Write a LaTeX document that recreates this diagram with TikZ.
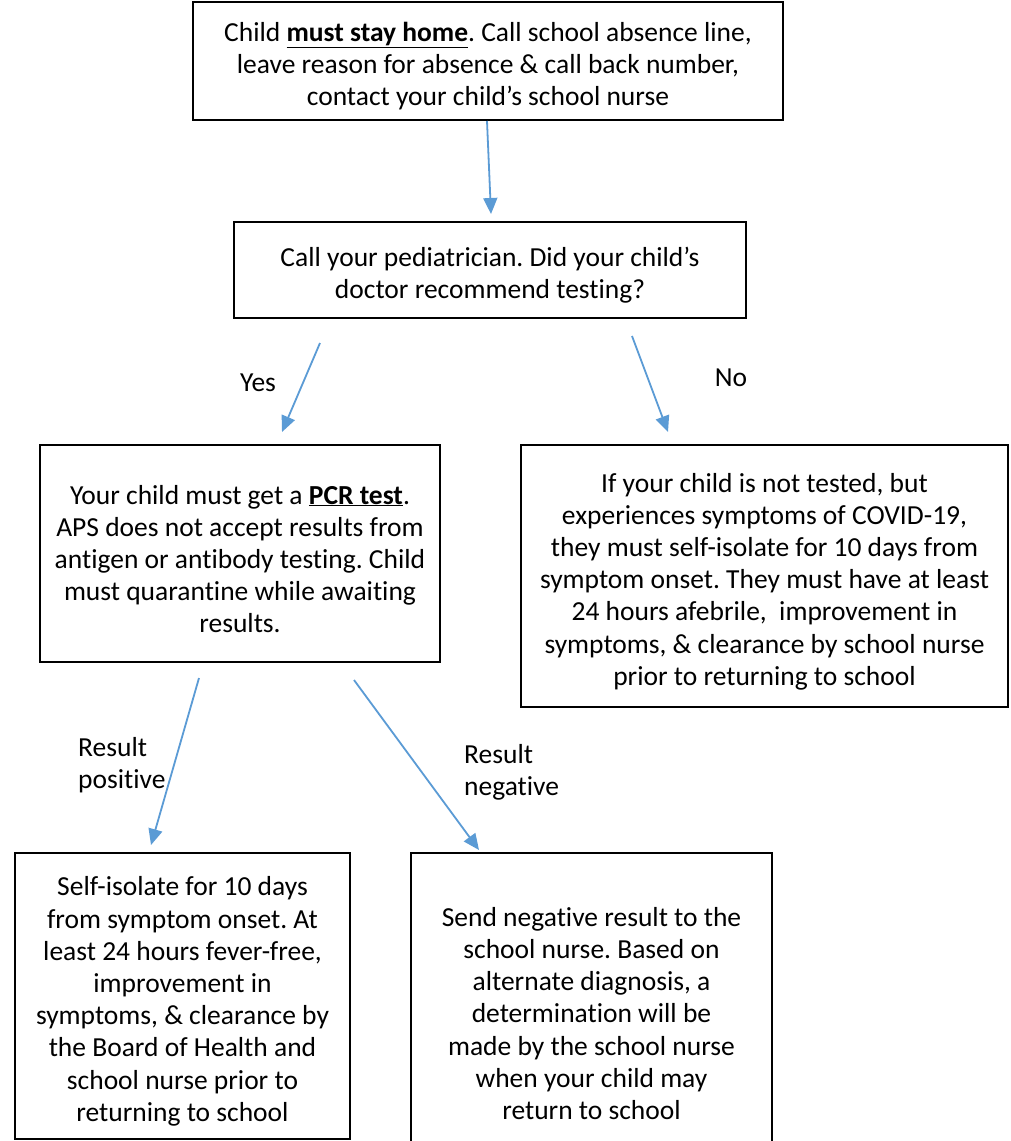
\documentclass[tikz,border=0pt]{standalone}
\usepackage{fontspec}
\setmainfont{Carlito}[Ligatures=NoCommon]
\usetikzlibrary{arrows.meta}
\definecolor{arrowblue}{HTML}{5B9BD5}
\frenchspacing
\newcommand\tstrut{\rule{0pt}{30pt}}
\tikzset{
  box/.style={draw=black, line width=1.8pt, rectangle, inner sep=0pt, align=center,
    font=\fontsize{27.5}{32.2}\selectfont},
  lbl/.style={inner sep=0pt, font=\fontsize{27.5}{32.2}\selectfont},
  flow/.style={draw=arrowblue, line width=1.8pt, -{Triangle[length=16pt,width=14pt]}}
}
\begin{document}
\begin{tikzpicture}[x=1pt,y=-1pt]
\useasboundingbox[fill=white] (0,0) rectangle (1011,1141);
% boxes
\node[box, minimum width=590pt, minimum height=118pt] (top) at (488,61)
  {\tstrut Child \textbf{\underline{must stay home}}. Call school absence line,\\
   leave reason for absence \& call back number,\\
   contact your child’s school nurse};
\node[box, minimum width=512pt, minimum height=96pt] (doc) at (490,270)
  {\tstrut Call your pediatrician. Did your child’s\\ doctor recommend testing?};
\node[box, minimum width=400pt, minimum height=217pt] (pcr) at (240,553.5)
  {\tstrut Your child must get a \textbf{\underline{PCR test}}.\\
   APS does not accept results from\\
   antigen or antibody testing. Child\\
   must quarantine while awaiting\\
   results.};
\node[box, minimum width=487pt, minimum height=262pt] (notest) at (764.5,576)
  {\tstrut If your child is not tested, but\\
   experiences symptoms of COVID-19,\\
   they must self-isolate for 10 days from\\
   symptom onset. They must have at least\\
   24 hours afebrile,\ \ improvement in\\
   symptoms, \& clearance by school nurse\\
   prior to returning to school};
\node[box, minimum width=335pt, minimum height=286pt] (pos) at (182.5,996)
  {\tstrut Self-isolate for 10 days\\
   from symptom onset. At\\
   least 24 hours fever-free,\\
   improvement in\\
   symptoms, \& clearance by\\
   the Board of Health and\\
   school nurse prior to\\
   returning to school};
\node[box, minimum width=361pt, minimum height=310pt] (neg) at (591.5,1008)
  {\tstrut Send negative result to the\\
   school nurse. Based on\\
   alternate diagnosis, a\\
   determination will be\\
   made by the school nurse\\
   when your child may\\
   return to school};
% arrow end points
\coordinate (a1s) at (487,121);  \coordinate (a1e) at (491,214);
\coordinate (a2s) at (320,343);  \coordinate (a2e) at (282,432);
\coordinate (a3s) at (632,336);  \coordinate (a3e) at (668,432);
\coordinate (a4s) at (199,678);  \coordinate (a4e) at (151,845);
\coordinate (a5s) at (354,680);  \coordinate (a5e) at (479,850);
\draw[flow] (a1s) -- (a1e);
\draw[flow] (a2s) -- (a2e);
\draw[flow] (a3s) -- (a3e);
\draw[flow] (a4s) -- (a4e);
\draw[flow] (a5s) -- (a5e);
% labels
\node[lbl] (yes) at (258,383) {Yes};
\node[lbl] (no) at (731,378) {No};
\node[lbl, anchor=west, align=left] (rpos) at (78,765) {Result\\positive};
\node[lbl, anchor=west, align=left] (rneg) at (464,772) {Result\\negative};
\end{tikzpicture}
\end{document}
